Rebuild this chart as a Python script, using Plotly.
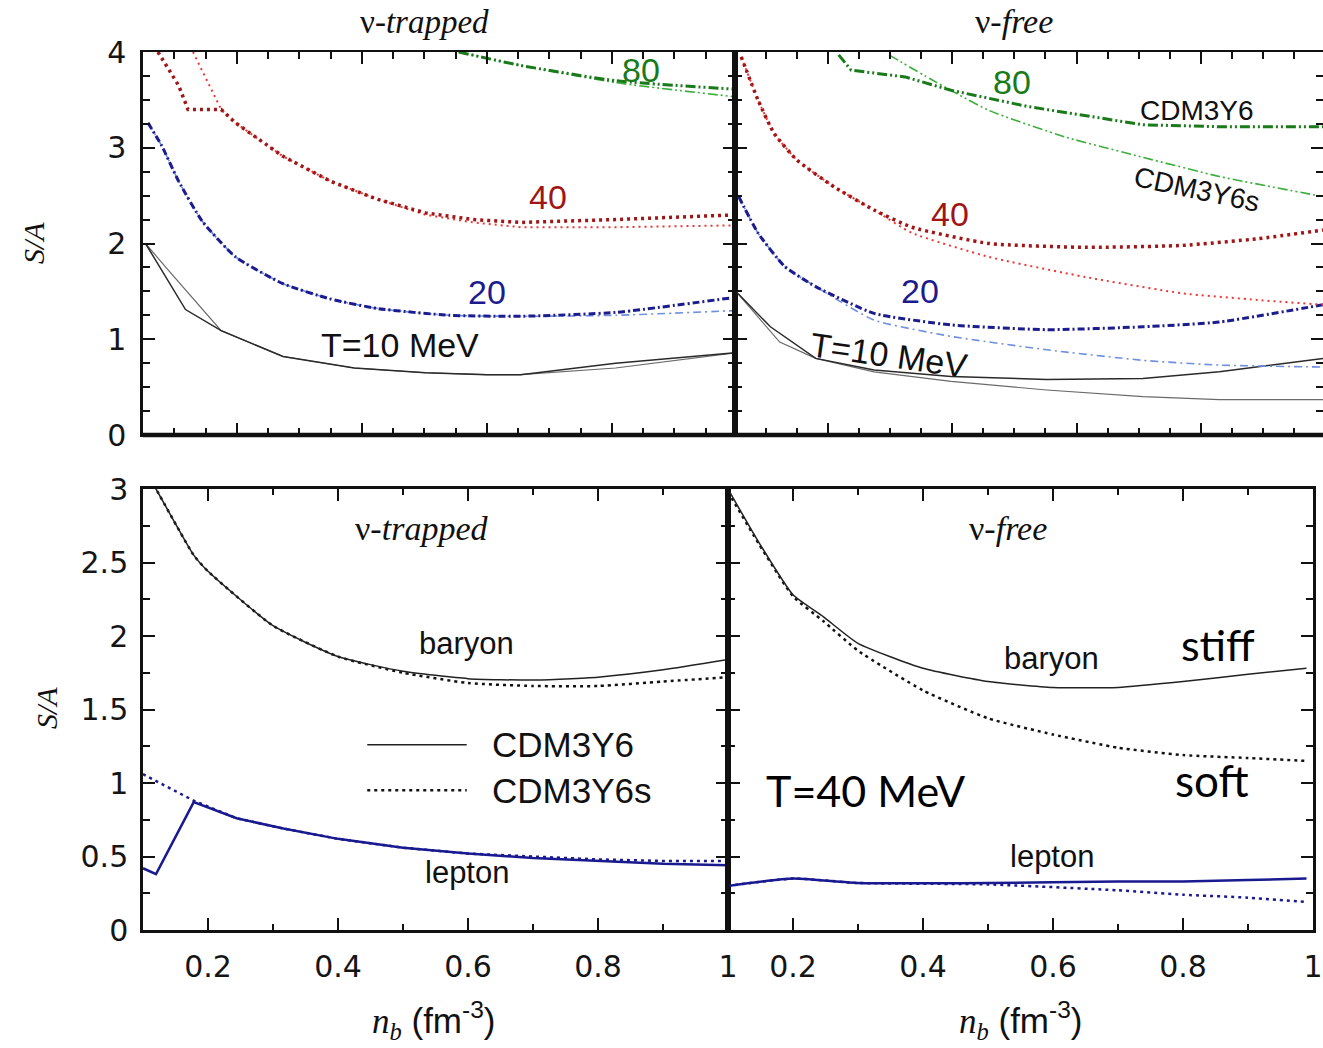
import plotly.graph_objects as go

W, H = 1323, 1048

# ---------------- data: top-left (nu-trapped, S/A vs n_b for several T) ----------------
tl_t10_a_x = [0.054, 0.118, 0.175, 0.274, 0.388, 0.502, 0.60, 0.654, 0.806, 1.0]
tl_t10_a_y = [2.0, 1.31, 1.09, 0.82, 0.70, 0.65, 0.63, 0.63, 0.75, 0.86]
tl_t10_b_x = [0.054, 0.088, 0.175, 0.274, 0.388, 0.502, 0.60, 0.654, 0.806, 1.0]
tl_t10_b_y = [2.0, 1.74, 1.09, 0.82, 0.70, 0.65, 0.63, 0.63, 0.70, 0.86]

tl_t20_x = [0.058, 0.08, 0.107, 0.145, 0.198, 0.274, 0.35, 0.426, 0.54, 0.654, 0.806, 1.0]
tl_t20_stiff = [3.26, 3.02, 2.65, 2.23, 1.86, 1.58, 1.42, 1.32, 1.25, 1.24, 1.28, 1.44]
tl_t20_soft = [3.26, 3.02, 2.65, 2.23, 1.86, 1.58, 1.42, 1.32, 1.25, 1.24, 1.25, 1.30]

tl_t40_stiff_x = [0.074, 0.107, 0.122, 0.175, 0.198, 0.274, 0.35, 0.426, 0.502, 0.578, 0.654, 0.806, 1.0]
tl_t40_stiff_y = [4.0, 3.65, 3.4, 3.4, 3.26, 2.91, 2.65, 2.46, 2.32, 2.25, 2.22, 2.25, 2.30]
tl_t40_soft_x = [0.13, 0.175, 0.198, 0.274, 0.35, 0.426, 0.502, 0.578, 0.654, 0.806, 1.0]
tl_t40_soft_y = [4.0, 3.4, 3.26, 2.91, 2.65, 2.46, 2.30, 2.22, 2.17, 2.17, 2.19]

tl_t80_x = [0.555, 0.654, 0.806, 1.0]
tl_t80_stiff = [4.0, 3.86, 3.70, 3.61]
tl_t80_soft = [4.0, 3.86, 3.68, 3.53]

# ---------------- data: top-right (nu-free) ----------------
tr_t10_a_x = [0.05, 0.107, 0.18, 0.274, 0.398, 0.552, 0.707, 0.83, 0.997]
tr_t10_a_y = [1.51, 1.13, 0.80, 0.68, 0.61, 0.58, 0.59, 0.66, 0.80]
tr_t10_b_x = [0.05, 0.122, 0.18, 0.274, 0.398, 0.552, 0.707, 0.83, 0.997]
tr_t10_b_y = [1.51, 0.97, 0.80, 0.66, 0.56, 0.47, 0.40, 0.37, 0.37]

tr_t20_x = [0.056, 0.087, 0.13, 0.18, 0.274, 0.398, 0.552, 0.707, 0.83, 0.997]
tr_t20_stiff = [2.49, 2.11, 1.76, 1.55, 1.27, 1.15, 1.10, 1.13, 1.18, 1.36]
tr_t20_soft = [2.49, 2.11, 1.76, 1.55, 1.20, 1.03, 0.89, 0.78, 0.73, 0.71]

tr_t40_x = [0.06, 0.087, 0.113, 0.15, 0.21, 0.274, 0.335, 0.459, 0.614, 0.77, 0.892, 0.997]
tr_t40_stiff = [3.95, 3.50, 3.15, 2.87, 2.59, 2.35, 2.17, 2.00, 1.96, 1.98, 2.05, 2.14]
tr_t40_soft = [3.95, 3.50, 3.15, 2.87, 2.59, 2.35, 2.11, 1.86, 1.65, 1.48, 1.41, 1.36]

tr_t80_stiff_x = [0.217, 0.237, 0.324, 0.398, 0.522, 0.707, 0.83, 0.997]
tr_t80_stiff_y = [3.97, 3.81, 3.74, 3.60, 3.43, 3.24, 3.22, 3.22]
tr_t80_soft_x = [0.298, 0.367, 0.459, 0.583, 0.707, 0.83, 0.997]
tr_t80_soft_y = [3.97, 3.71, 3.39, 3.11, 2.90, 2.70, 2.49]

# ---------------- data: bottom-left (nu-trapped, T=40 MeV) ----------------
bl_bar_x = [0.1, 0.12, 0.178, 0.2, 0.3, 0.4, 0.5, 0.6, 0.7, 0.8, 0.9, 1.0]
bl_bar_stiff = [3.15, 3.0, 2.55, 2.44, 2.07, 1.86, 1.76, 1.71, 1.70, 1.72, 1.77, 1.84]
bl_bar_soft = [3.15, 3.0, 2.55, 2.44, 2.07, 1.86, 1.75, 1.68, 1.66, 1.66, 1.69, 1.72]
bl_lep_stiff_x = [0.1, 0.12, 0.178, 0.244, 0.316, 0.4, 0.5, 0.6, 0.7, 0.8, 0.9, 1.0]
bl_lep_stiff_y = [0.42, 0.38, 0.87, 0.76, 0.69, 0.62, 0.56, 0.52, 0.49, 0.47, 0.45, 0.44]
bl_lep_soft_x = [0.1, 0.178, 0.244, 0.316, 0.4, 0.5, 0.6, 0.7, 0.8, 0.9, 1.0]
bl_lep_soft_y = [1.06, 0.88, 0.76, 0.69, 0.62, 0.56, 0.52, 0.50, 0.48, 0.47, 0.47]

# ---------------- data: bottom-right (nu-free, T=40 MeV) ----------------
br_bar_x = [0.1, 0.147, 0.2, 0.247, 0.3, 0.4, 0.5, 0.6, 0.7, 0.8, 0.9, 0.99]
br_bar_stiff = [3.0, 2.64, 2.28, 2.13, 1.95, 1.78, 1.69, 1.65, 1.65, 1.69, 1.74, 1.78]
br_bar_soft = [2.98, 2.63, 2.27, 2.10, 1.90, 1.63, 1.44, 1.33, 1.24, 1.19, 1.17, 1.15]
br_lep_x = [0.1, 0.2, 0.3, 0.5, 0.7, 0.8, 0.9, 0.99]
br_lep_stiff = [0.30, 0.35, 0.32, 0.32, 0.33, 0.33, 0.34, 0.35]
br_lep_soft = [0.30, 0.35, 0.32, 0.31, 0.27, 0.24, 0.22, 0.19]

bottom_xticks = [0.2, 0.4, 0.6, 0.8, 1.0]
bottom_xticklabels = ["0.2", "0.4", "0.6", "0.8", "1"]
bottom_yticks = [0, 0.5, 1, 1.5, 2, 2.5, 3]
bottom_yticklabels = ["0", "0.5", "1", "1.5", "2", "2.5", "3"]
top_yticks = [0, 1, 2, 3, 4]
top_yticklabels = ["0", "1", "2", "3", "4"]

# ---------------- styles ----------------
BLACK = "#2a2a2a"
GREY = "#6a6a6a"
BLUE_D = "#1c1c8e"
BLUE_L = "#6f8fe0"
RED_D = "#a01515"
RED_L = "#ee3535"
GREEN_D = "#187a18"
GREEN_L = "#3cae3c"
NAVY = "#1a1a90"

DASHDOT = "7px,3px,2px,3px"
DASHDOT_THIN = "8px,4px,2px,4px"
DOT_THICK = "3px,4px"
DOT_THIN = "2px,4px"
DDD = "10px,3px,2px,3px,2px,3px"
DOT_BLACK = "3px,4px"

fig = go.Figure()


def add(x, y, ax, color, width, dash="solid", smooth=False):
    line = dict(color=color, width=width, dash=dash)
    if smooth:
        line.update(shape="spline", smoothing=0.5)
    fig.add_trace(go.Scatter(x=x, y=y, xaxis=ax[0], yaxis=ax[1], mode="lines", line=line,
                             showlegend=False, hoverinfo="skip"))


TL = ("x", "y")
TR = ("x2", "y2")
BL = ("x3", "y3")
BR = ("x4", "y4")

# top-left
add(tl_t10_b_x, tl_t10_b_y, TL, GREY, 1.2)
add(tl_t10_a_x, tl_t10_a_y, TL, BLACK, 1.5)
add(tl_t20_x, tl_t20_soft, TL, BLUE_L, 1.6, DASHDOT_THIN, True)
add(tl_t20_x, tl_t20_stiff, TL, BLUE_D, 3, DASHDOT, True)
add(tl_t40_soft_x, tl_t40_soft_y, TL, RED_L, 2, DOT_THIN)
add(tl_t40_stiff_x, tl_t40_stiff_y, TL, RED_D, 3.5, DOT_THICK)
add(tl_t80_x, tl_t80_soft, TL, GREEN_L, 1.6, DDD, True)
add(tl_t80_x, tl_t80_stiff, TL, GREEN_D, 3, DDD, True)

# top-right
add(tr_t10_b_x, tr_t10_b_y, TR, GREY, 1.2)
add(tr_t10_a_x, tr_t10_a_y, TR, BLACK, 1.5)
add(tr_t20_x, tr_t20_soft, TR, BLUE_L, 1.6, DASHDOT_THIN, True)
add(tr_t20_x, tr_t20_stiff, TR, BLUE_D, 3, DASHDOT, True)
add(tr_t40_x, tr_t40_soft, TR, RED_L, 2, DOT_THIN, True)
add(tr_t40_x, tr_t40_stiff, TR, RED_D, 3.5, DOT_THICK, True)
add(tr_t80_soft_x, tr_t80_soft_y, TR, GREEN_L, 1.6, DDD, True)
add(tr_t80_stiff_x, tr_t80_stiff_y, TR, GREEN_D, 3, DDD)

# bottom-left
add(bl_bar_x, bl_bar_soft, BL, "#111", 2.5, DOT_BLACK, True)
add(bl_bar_x, bl_bar_stiff, BL, "#222", 1.5, "solid", True)
add(bl_lep_soft_x, bl_lep_soft_y, BL, NAVY, 2.5, DOT_BLACK)
add(bl_lep_stiff_x, bl_lep_stiff_y, BL, NAVY, 2.5)

# bottom-right
add(br_bar_x, br_bar_soft, BR, "#111", 2.5, DOT_BLACK, True)
add(br_bar_x, br_bar_stiff, BR, "#222", 1.5, "solid", True)
add(br_lep_x, br_lep_soft, BR, NAVY, 2.5, DOT_BLACK, True)
add(br_lep_x, br_lep_stiff, BR, NAVY, 2.5, "solid", True)


def px(xp):
    return xp / W


def py(yp):
    return 1 - yp / H


SANS = "Liberation Sans, Arial, sans-serif"
SERIF = "Liberation Serif, Times New Roman, serif"
CAL = "Lato, Open Sans, sans-serif"
TICKFONT = dict(family="DejaVu Sans, Liberation Sans, sans-serif", size=30, color="#151515")

top_x_common = dict(range=[0.05, 0.997], tick0=0.2, dtick=0.2, ticks="inside", ticklen=12, tickwidth=2,
                    tickcolor="#111", showticklabels=False, showline=True, linewidth=2.2, linecolor="#111",
                    mirror="allticks", showgrid=False, zeroline=False, automargin=False,
                    minor=dict(dtick=0.05, tick0=0.05, ticks="inside", ticklen=7, tickwidth=2, tickcolor="#111",
                               showgrid=False))
top_y_common = dict(range=[0, 4], tickvals=top_yticks, ticks="inside", ticklen=12, tickwidth=2, tickcolor="#111",
                    showline=True, linewidth=2.5, linecolor="#111", mirror="allticks", showgrid=False,
                    zeroline=False, automargin=False,
                    minor=dict(dtick=0.25, ticks="inside", ticklen=7, tickwidth=2, tickcolor="#111", showgrid=False))

bot_x_common = dict(range=[0.1, 1.0], tickvals=bottom_xticks, ticktext=bottom_xticklabels, ticks="inside",
                    ticklen=12, tickwidth=2, tickcolor="#111", showline=True, linewidth=2.5, linecolor="#111",
                    mirror="allticks", showgrid=False, zeroline=False, tickfont=TICKFONT, ticklabelstandoff=8,
                    automargin=False,
                    minor=dict(dtick=0.1, tick0=0.1, ticks="inside", ticklen=6, tickwidth=2, tickcolor="#111",
                               showgrid=False))
bot_y_common = dict(range=[0, 3], tickvals=bottom_yticks, ticks="inside", ticklen=12, tickwidth=2, tickcolor="#111",
                    showline=True, linewidth=2.5, linecolor="#111", mirror="allticks", showgrid=False,
                    zeroline=False, automargin=False,
                    minor=dict(dtick=0.25, ticks="inside", ticklen=7, tickwidth=2, tickcolor="#111", showgrid=False))

out_ticks = dict(range=[0.05, 0.997], tick0=0.2, dtick=0.2, ticks="outside", ticklen=12, tickwidth=2,
                 tickcolor="#111", showticklabels=False, showline=False, showgrid=False, zeroline=False,
                 automargin=False,
                 minor=dict(dtick=0.05, tick0=0.05, ticks="outside", ticklen=7, tickwidth=2, tickcolor="#111"))

fig.update_layout(
    width=W, height=H, margin=dict(l=0, r=0, t=0, b=0, autoexpand=False),
    paper_bgcolor="white", plot_bgcolor="white", showlegend=False,
    xaxis=dict(top_x_common, domain=[px(143), px(735)], anchor="y"),
    yaxis=dict(top_y_common, domain=[py(435), py(52)], anchor="x", ticktext=top_yticklabels,
               tickfont=TICKFONT, ticklabelstandoff=8),
    xaxis2=dict(top_x_common, domain=[px(735), 1.0], anchor="y2"),
    yaxis2=dict(top_y_common, domain=[py(435), py(52)], anchor="x2", showticklabels=False),
    xaxis3=dict(bot_x_common, domain=[px(143), px(728)], anchor="y3"),
    yaxis3=dict(bot_y_common, domain=[py(930), py(489)], anchor="x3", ticktext=bottom_yticklabels,
                tickfont=TICKFONT, ticklabelstandoff=6),
    xaxis4=dict(bot_x_common, domain=[px(728), px(1313)], anchor="y4"),
    yaxis4=dict(bot_y_common, domain=[py(930), py(489)], anchor="x4", showticklabels=False),
    # outward ticks crossing the thick bottom axis of the top panels
    xaxis5=dict(out_ticks, overlaying="x", anchor="y", domain=[px(143), px(735)]),
    xaxis6=dict(out_ticks, overlaying="x2", anchor="y2", domain=[px(735), 1.0]),
)

shapes = [
    dict(type="line", xref="x domain", yref="y domain", x0=0, x1=1, y0=0, y1=0, line=dict(color="#111", width=4.5)),
    dict(type="line", xref="x2 domain", yref="y2 domain", x0=0, x1=1, y0=0, y1=0, line=dict(color="#111", width=4.5)),
    dict(type="line", xref="x2 domain", yref="y2 domain", x0=0, x1=0, y0=0, y1=1, line=dict(color="#111", width=3.5)),
    dict(type="line", xref="x4 domain", yref="y4 domain", x0=0, x1=0, y0=0, y1=1, line=dict(color="#111", width=3.5)),
    # legend samples in bottom-left panel
    dict(type="line", xref="x3", yref="y3", x0=0.445, x1=0.598, y0=1.26, y1=1.26, line=dict(color="#222", width=1.5)),
    dict(type="line", xref="x3", yref="y3", x0=0.445, x1=0.598, y0=0.95, y1=0.95,
         line=dict(color="#111", width=2.5, dash=DOT_BLACK)),
]
fig.update_layout(shapes=shapes)

ann = []


def text(t, x, y, xref, yref, size, color="#111", family=SANS, angle=0, xanchor="center"):
    ann.append(dict(text=t, x=x, y=y, xref=xref, yref=yref, showarrow=False, textangle=angle,
                    xanchor=xanchor, yanchor="middle", font=dict(family=family, size=size, color=color)))


# top-left labels
text("80", 0.847, 3.81, "x", "y", 34, GREEN_D)
text("40", 0.698, 2.49, "x", "y", 34, RED_D)
text("20", 0.600, 1.49, "x", "y", 34, BLUE_D)
text("T=10 MeV", 0.461, 0.94, "x", "y", 34)
# top-right labels
text("80", 0.496, 3.69, "x2", "y2", 34, GREEN_D)
text("CDM3Y6", 0.794, 3.39, "x2", "y2", 28)
text("CDM3Y6s", 0.794, 2.56, "x2", "y2", 28, angle=12)
text("40", 0.397, 2.31, "x2", "y2", 34, RED_D)
text("20", 0.348, 1.50, "x2", "y2", 34, BLUE_D)
text("T=10 MeV", 0.298, 0.84, "x2", "y2", 34, angle=8)
# bottom-left labels
text("ν-<i>trapped</i>", 0.529, 2.73, "x3", "y3", 34, family=SERIF)
text("baryon", 0.598, 1.95, "x3", "y3", 31)
text("lepton", 0.598, 0.39, "x3", "y3", 31)
text("CDM3Y6", 0.634, 1.26, "x3", "y3", 35, xanchor="left")
text("CDM3Y6s", 0.634, 0.95, "x3", "y3", 35, xanchor="left")
# bottom-right labels
text("ν-<i>free</i>", 0.531, 2.73, "x4", "y4", 34, family=SERIF)
text("baryon", 0.598, 1.85, "x4", "y4", 31)
text("lepton", 0.598, 0.50, "x4", "y4", 31)
text("stiff", 0.854, 1.94, "x4", "y4", 43, "#000", CAL)
text("soft", 0.845, 1.02, "x4", "y4", 44, "#000", CAL)
text("T=40 MeV", 0.311, 0.95, "x4", "y4", 43, "#000", CAL)
# panel titles above top panels
text("ν-<i>trapped</i>", px(424), py(22), "paper", "paper", 33, family=SERIF)
text("ν-<i>free</i>", px(1014), py(22), "paper", "paper", 34, family=SERIF)
# axis titles
xt = ("<span style='font-family:Liberation Serif'><i>n</i><sub><i>b</i></sub></span> (fm<sup>-3</sup>)")
text(xt, px(433), py(1020), "paper", "paper", 35)
text(xt, px(1020), py(1020), "paper", "paper", 35)
text("<i>S/A</i>", px(34), py(243), "paper", "paper", 30, family=SERIF, angle=-90)
text("<i>S/A</i>", px(46), py(708), "paper", "paper", 30, family=SERIF, angle=-90)

fig.update_layout(annotations=ann)

fig.write_html("out.html", config={"displayModeBar": False},
               post_script="document.body.style.margin='0';document.body.style.overflow='hidden';")
